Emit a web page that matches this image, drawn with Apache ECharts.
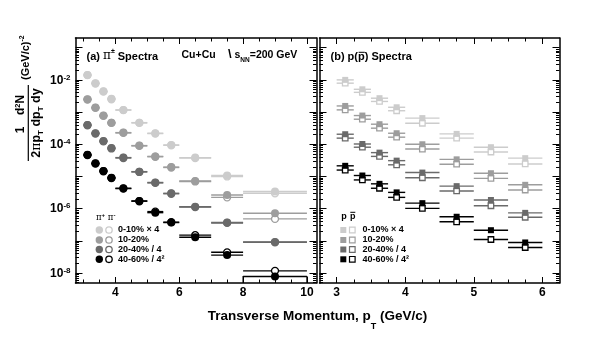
<!DOCTYPE html>
<html><head><meta charset="utf-8">
<script src="https://cdn.jsdelivr.net/npm/echarts@6/dist/echarts.min.js"></script>
<style>html,body{margin:0;padding:0;background:#fff}#c{width:600px;height:355px}</style>
</head><body><div id="c"></div>
<script>
const F = '"Liberation Sans", Arial, Helvetica, sans-serif';

// ---- pion spectra (left panel) ----
const pionPt = [3.125, 3.375, 3.625, 3.875, 4.25, 4.75, 5.25, 5.75, 6.5, 7.5, 9.0];
const pionLo = [3.0, 3.25, 3.5, 3.75, 4.0, 4.5, 5.0, 5.5, 6.0, 7.0, 8.0];
const pionHi = [3.25, 3.5, 3.75, 4.0, 4.5, 5.0, 5.5, 6.0, 7.0, 8.0, 10.0];
const piPlus_0_10   = [1.43e-2, 7.9e-3, 4.4e-3, 2.6e-3, 1.17e-3, 4.7e-4, 2.2e-4, 9.5e-5, 3.85e-5, 1.07e-5, 3.4e-6];
const piMinus_0_10  = [1.40e-2, 7.7e-3, 4.3e-3, 2.5e-3, 1.15e-3, 4.6e-4, 2.15e-4, 9.3e-5, 3.7e-5, 1.0e-5, 3.0e-6];
const piPlus_10_20  = [2.5e-3, 1.38e-3, 7.8e-4, 4.7e-4, 2.3e-4, 9.1e-5, 4.2e-5, 1.95e-5, 7.2e-6, 2.66e-6, 7.2e-7];
const piMinus_10_20 = [2.45e-3, 1.35e-3, 7.6e-4, 4.6e-4, 2.25e-4, 8.9e-5, 4.1e-5, 1.9e-5, 7.0e-6, 2.24e-6, 4.8e-7];
const piPlus_20_40  = [4.0e-4, 2.2e-4, 1.26e-4, 7.6e-5, 3.85e-5, 1.41e-5, 6.5e-6, 3.0e-6, 1.15e-6, 3.7e-7, 9.2e-8];
const piMinus_20_40 = [3.9e-4, 2.15e-4, 1.23e-4, 7.4e-5, 3.75e-5, 1.38e-5, 6.3e-6, 2.9e-6, 1.12e-6, 3.6e-7, 9.0e-8];
const piPlus_40_60  = [4.7e-5, 2.57e-5, 1.48e-5, 9.1e-6, 4.3e-6, 1.74e-6, 7.5e-7, 3.7e-7, 1.29e-7, 3.6e-8, 7.8e-9];
const piMinus_40_60 = [4.6e-5, 2.5e-5, 1.45e-5, 8.9e-6, 4.2e-6, 1.7e-6, 8.1e-7, 3.8e-7, 1.5e-7, 4.4e-8, 1.17e-8];
// error box of the last 40-60% pi+ point
const boxLo = [8.0], boxHi = [10.0], boxTop = [7.8e-9];

// ---- proton spectra (right panel) ----
const protonPt = [3.125, 3.375, 3.625, 3.875, 4.25, 4.75, 5.25, 5.75];
const protonLo = [3.0, 3.25, 3.5, 3.75, 4.0, 4.5, 5.0, 5.5];
const protonHi = [3.25, 3.5, 3.75, 4.0, 4.5, 5.0, 5.5, 6.0];
const p_0_10     = [1.0e-2, 5.1e-3, 2.7e-3, 1.41e-3, 6.5e-4, 2.1e-4, 8.1e-5, 3.7e-5];
const pbar_0_10  = [7.9e-3, 4.1e-3, 2.14e-3, 1.1e-3, 4.5e-4, 1.55e-4, 5.75e-5, 2.45e-5];
const p_10_20    = [1.55e-3, 7.8e-4, 4.2e-4, 2.2e-4, 1.0e-4, 3.4e-5, 1.26e-5, 5.5e-6];
const pbar_10_20 = [1.17e-3, 6.0e-4, 3.16e-4, 1.66e-4, 7.1e-5, 2.4e-5, 8.7e-6, 3.8e-6];
const p_20_40    = [2.05e-4, 1.02e-4, 5.5e-5, 3.1e-5, 1.32e-5, 5.0e-6, 1.86e-6, 7.4e-7];
const pbar_20_40 = [1.55e-4, 8.1e-5, 4.2e-5, 2.3e-5, 9.1e-6, 3.55e-6, 1.23e-6, 5.4e-7];
const p_40_60    = [2.14e-5, 1.07e-5, 5.9e-6, 3.2e-6, 1.48e-6, 5.6e-7, 2.14e-7, 8.9e-8];
const pbar_40_60 = [1.58e-5, 7.8e-6, 4.3e-6, 2.24e-6, 1.02e-6, 3.9e-7, 1.1e-7, 6.2e-8];

const centLabels = ['0-10% \u00d7 4', '10-20%', '20-40% / 4', '40-60% / 4\u00b2'];
const shades = ['#cccccc', '#9d9d9d', '#6a6a6a', '#000000'];

// ---- axis ticks / labels ----
const xLeftLabels = [4, 6, 8, 10];
const xLeftMinor = [3, 3.5, 4.5, 5, 5.5, 6.5, 7, 7.5, 8.5, 9, 9.5];
const xRightLabels = [3, 4, 5, 6];
const xRightMinor = [3.25, 3.5, 3.75, 4.25, 4.5, 4.75, 5.25, 5.5, 5.75];
const yMajor = [1e-8, 1e-7, 1e-6, 1e-5, 1e-4, 1e-3, 1e-2, 1e-1];
const yLabels = [1e-8, 1e-6, 1e-4, 1e-2];
const Y_MIN = 4.9e-9, Y_MAX = 0.2;
const yMinor = [];
for (let e = -9; e <= -1; e++) for (let m = 2; m <= 9; m++) {
  const v = m * Math.pow(10, e);
  if (v > Y_MIN && v < Y_MAX) yMinor.push(v);
}

const tickStyle = {color: '#000', width: 1};
const frameLine = {show: true, onZero: false, lineStyle: {color: '#000', width: 1.5}};

function xAxes(grid, min, max, major, minor, showLabels) {
  const base = {type: 'value', gridIndex: grid, min: min, max: max, splitLine: {show: false}};
  const out = [];
  ['bottom', 'top'].forEach(function (pos) {
    out.push(Object.assign({}, base, {
      position: pos, axisLine: frameLine,
      axisTick: {show: true, inside: true, length: 6, customValues: major, lineStyle: tickStyle},
      axisLabel: (pos === 'bottom' && showLabels) ? {show: true, customValues: major, margin: 4, color: '#000',
        fontFamily: F, fontWeight: 'bold', fontSize: 12} : {show: false}
    }));
    out.push(Object.assign({}, base, {
      position: pos, axisLine: {show: false},
      axisTick: {show: true, inside: true, length: 3.5, customValues: minor, lineStyle: tickStyle},
      axisLabel: {show: false}
    }));
  });
  return out;
}
function yAxes(grid, showLabels) {
  const base = {type: 'log', logBase: 10, gridIndex: grid, min: Y_MIN, max: Y_MAX, splitLine: {show: false}};
  const out = [];
  ['left', 'right'].forEach(function (pos) {
    out.push(Object.assign({}, base, {
      position: pos, axisLine: frameLine,
      axisTick: {show: true, inside: true, length: 7, customValues: yMajor, lineStyle: tickStyle},
      axisLabel: (pos === 'left' && showLabels) ? {
        show: true, customValues: yLabels, margin: 5,
        formatter: function (v) { return '{b|10}{s|' + Math.round(Math.log10(v)) + '}'; },
        rich: {
          b: {fontSize: 12, fontWeight: 'bold', fontFamily: F, color: '#000', lineHeight: 13, verticalAlign: 'bottom'},
          s: {fontSize: 8, fontWeight: 'bold', fontFamily: F, color: '#000', lineHeight: 13, verticalAlign: 'top'}
        }
      } : {show: false}
    }));
    out.push(Object.assign({}, base, {
      position: pos, axisLine: {show: false},
      axisTick: {show: true, inside: true, length: 3.5, customValues: yMinor, lineStyle: tickStyle},
      axisLabel: {show: false}
    }));
  });
  return out;
}

function barSeries(axisIdx, xs, lo, hi, ys, color) {
  return {
    type: 'custom', xAxisIndex: axisIdx, yAxisIndex: axisIdx, clip: true, silent: true, z: 2,
    encode: {x: [0, 1], y: 2},
    data: xs.map(function (x, i) { return [lo[i], hi[i], ys[i]]; }),
    renderItem: function (params, api) {
      const a = api.coord([api.value(0), api.value(2)]);
      const b = api.coord([api.value(1), api.value(2)]);
      return {type: 'line', shape: {x1: a[0], y1: a[1], x2: b[0], y2: b[1]},
        style: {stroke: color, lineWidth: 1.4}};
    }
  };
}
function markSeries(axisIdx, xs, ys, color, symbol, size, open) {
  return {
    type: 'scatter', xAxisIndex: axisIdx, yAxisIndex: axisIdx, silent: true, z: open ? 3 : 4,
    symbol: symbol, symbolSize: size,
    itemStyle: open ? {color: '#fff', borderColor: color, borderWidth: 1.3, opacity: 1}
                    : {color: color, borderWidth: 0, opacity: 1},
    data: xs.map(function (x, i) { return [x, ys[i]]; })
  };
}

const piPlus = [piPlus_0_10, piPlus_10_20, piPlus_20_40, piPlus_40_60];
const piMinus = [piMinus_0_10, piMinus_10_20, piMinus_20_40, piMinus_40_60];
const pro = [p_0_10, p_10_20, p_20_40, p_40_60];
const pbar = [pbar_0_10, pbar_10_20, pbar_20_40, pbar_40_60];

const series = [];
for (let c = 0; c < 4; c++) {
  series.push(barSeries(0, pionPt, pionLo, pionHi, piMinus[c], shades[c]));
  series.push(barSeries(0, pionPt, pionLo, pionHi, piPlus[c], shades[c]));
  series.push(barSeries(4, protonPt, protonLo, protonHi, pbar[c], shades[c]));
  series.push(barSeries(4, protonPt, protonLo, protonHi, pro[c], shades[c]));
}
series.push({
  type: 'custom', xAxisIndex: 0, yAxisIndex: 0, clip: true, silent: true, z: 2,
  encode: {x: [0, 1], y: 2},
  data: boxLo.map(function (x, i) { return [boxLo[i], boxHi[i], boxTop[i]]; }),
  renderItem: function (params, api) {
    const a = api.coord([api.value(0), api.value(2)]);
    const b = api.coord([api.value(1), 1e-9]);
    return {type: 'rect', shape: {x: a[0], y: a[1], width: b[0] - a[0], height: b[1] - a[1]},
      style: {fill: 'none', stroke: '#000', lineWidth: 1.2}};
  }
});
for (let c = 0; c < 4; c++) {
  series.push(markSeries(0, pionPt, piMinus[c], shades[c], 'circle', 7, true));
  series.push(markSeries(4, protonPt, pbar[c], shades[c], 'rect', 5.5, true));
}
for (let c = 0; c < 4; c++) {
  series.push(markSeries(0, pionPt, piPlus[c], shades[c], 'circle', 8, false));
  series.push(markSeries(4, protonPt, pro[c], shades[c], 'rect', 6, false));
}

// ---- text / legend graphics ----
function rs(size, extra) {
  return Object.assign({fontSize: size, fontWeight: 'bold', fontFamily: F, fill: '#000'}, extra || {});
}
function plain(x, y, text, size, extra) {
  return {type: 'text', x: x, y: y, style: Object.assign({text: text, fontSize: size, fontWeight: 'bold',
    fontFamily: F, fill: '#000', verticalAlign: 'middle'}, extra || {})};
}
function bar(x1, x2, y) {
  return {type: 'line', shape: {x1: x1, y1: y, x2: x2, y2: y}, style: {stroke: '#000', lineWidth: 1}};
}
const graphics = [];
// panel titles
graphics.push({type: 'text', x: 86.5, y: 48, style: {
  text: '{t|(a) }{g|\u03c0}{sp|\u00b1}{t| Spectra}',
  rich: {t: rs(11, {lineHeight: 14, verticalAlign: 'bottom'}),
         g: {fontSize: 12, fontFamily: '"DejaVu Serif", serif', fill: '#000', lineHeight: 14, verticalAlign: 'bottom'},
         sp: rs(7, {lineHeight: 14, verticalAlign: 'top'})}}});
graphics.push(plain(181.5, 55, 'Cu+Cu', 10.5));
graphics.push({type: 'text', x: 228, y: 47.5, style: {
  text: '{bs|\\}{t| s}{sb|NN}{t|=200 GeV}',
  rich: {bs: rs(13, {lineHeight: 16, verticalAlign: 'top'}), t: rs(10.5, {lineHeight: 16, verticalAlign: 'top', padding: [2, 0, 0, 0]}),
         sb: rs(6.5, {lineHeight: 16, verticalAlign: 'bottom'})}}});
graphics.push(plain(330.5, 57, '(b) p(p) Spectra', 11));
graphics.push(bar(358.6, 364.8, 52.3));

// left legend
graphics.push({type: 'text', x: 96, y: 217, style: {
  text: '{g|\u03c0}{sp|+}{g| \u03c0}{sp|-}',
  rich: {g: {fontSize: 8.5, fontFamily: '"DejaVu Serif", serif', fill: '#000', lineHeight: 10, verticalAlign: 'bottom'},
         sp: rs(6, {lineHeight: 10, verticalAlign: 'top'})}, verticalAlign: 'middle'}});
const legRows = [230, 240, 249.5, 259.3];
for (let c = 0; c < 4; c++) {
  const cy = legRows[c];
  graphics.push({type: 'circle', shape: {cx: 99.3, cy: cy, r: 3.7}, style: {fill: shades[c]}});
  graphics.push({type: 'circle', shape: {cx: 109, cy: cy, r: 3.2}, style: {fill: '#fff', stroke: shades[c], lineWidth: 1.3}});
  graphics.push(plain(118, cy, centLabels[c], 9));
  graphics.push({type: 'rect', shape: {x: 343.3 - 3, y: cy - 3, width: 6, height: 6}, style: {fill: shades[c]}});
  graphics.push({type: 'rect', shape: {x: 352.3 - 2.8, y: cy - 2.8, width: 5.6, height: 5.6}, style: {fill: '#fff', stroke: shades[c], lineWidth: 1.2}});
  graphics.push(plain(362.5, cy, centLabels[c], 9));
}
graphics.push(plain(341.3, 217, 'p', 9));
graphics.push(plain(350, 217, 'p', 9));
graphics.push(bar(350.3, 355.3, 212.3));

// x axis title
graphics.push({type: 'text', x: 317.5, y: 309.5, style: {
  text: '{a|Transverse Momentum, p}{sb|T}{a| (GeV/c)}', align: 'center', verticalAlign: 'top',
  rich: {a: rs(13.5, {lineHeight: 22, verticalAlign: 'top'}), sb: rs(9, {lineHeight: 22, verticalAlign: 'bottom'})}}});

// y axis title (rotated)
graphics.push({type: 'group', x: 28.3, y: 161, rotation: Math.PI / 2, children: [
  {type: 'line', shape: {x1: 0, y1: 0, x2: 76, y2: 0}, style: {stroke: '#000', lineWidth: 1.2}},
  {type: 'text', x: 31, y: -1.5, style: {text: '1', fontSize: 12, fontWeight: 'bold', fontFamily: F, fill: '#000', align: 'center', verticalAlign: 'bottom'}},
  {type: 'text', x: 56, y: -1.5, style: {text: '{t|d}{sp|2}{t|N}', align: 'center', verticalAlign: 'bottom',
    rich: {t: rs(12, {lineHeight: 13, verticalAlign: 'bottom'}), sp: rs(7.5, {lineHeight: 13, verticalAlign: 'top'})}}},
  {type: 'text', x: 38, y: 1.5, style: {text: '{t|2}{g|\u03c0}{t|p}{sb|T}{t| dp}{sb|T}{t| dy}', align: 'center', verticalAlign: 'top',
    rich: {t: rs(12.5, {lineHeight: 15, verticalAlign: 'top'}), g: {fontSize: 12.5, fontFamily: '"DejaVu Serif", serif', fill: '#000', lineHeight: 15, verticalAlign: 'top'},
           sb: rs(8, {lineHeight: 15, verticalAlign: 'bottom'})}}},
  {type: 'text', x: 81, y: -3.5, style: {text: '{t|(GeV/c)}{sp|-2}', align: 'left', verticalAlign: 'middle',
    rich: {t: rs(11, {lineHeight: 13, verticalAlign: 'bottom'}), sp: rs(7, {lineHeight: 13, verticalAlign: 'top'})}}}
]});

const chart = echarts.init(document.getElementById('c'), null, {renderer: 'canvas'});
chart.setOption({
  animation: false,
  backgroundColor: '#fff',
  grid: [
    {left: 75.5, top: 38, width: 241, height: 245},
    {left: 319.5, top: 38, width: 240, height: 245}
  ],
  xAxis: xAxes(0, 2.75, 10.3, xLeftLabels, xLeftMinor, true).concat(xAxes(1, 2.75, 6.25, xRightLabels, xRightMinor, true)),
  yAxis: yAxes(0, true).concat(yAxes(1, false)),
  series: series,
  graphic: graphics
});
</script></body></html>
